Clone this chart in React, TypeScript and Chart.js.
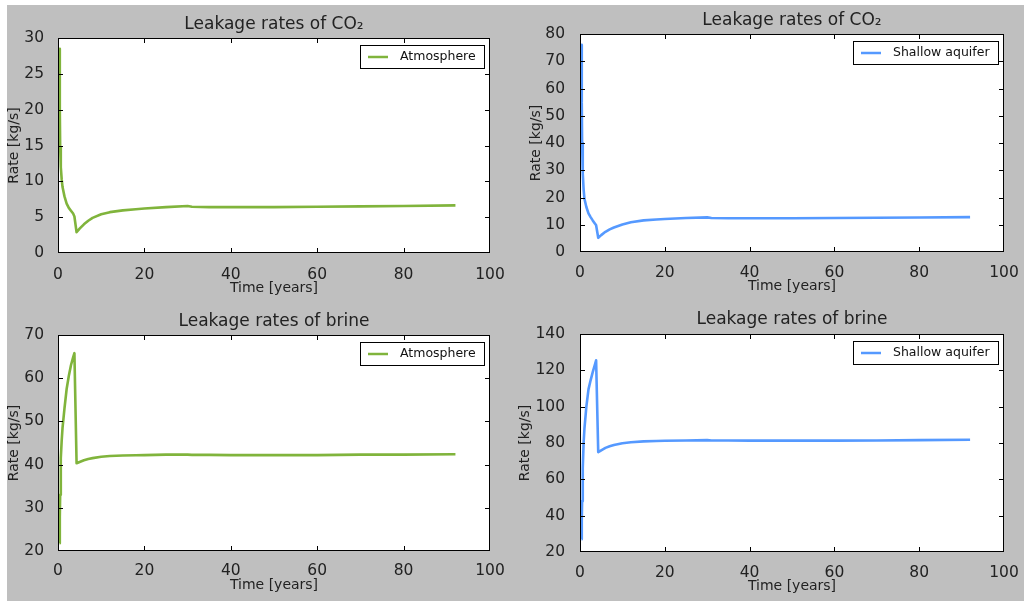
import React, { useEffect, useRef } from "react";
import { Chart, registerables } from "chart.js";

Chart.register(...registerables);

// ---- data ----
const timeYears = [0.35, 0.42, 0.5, 0.65, 0.85, 1.05, 1.5, 2, 2.5, 3, 3.5, 3.8, 4.3, 5, 6, 7, 8, 10, 12, 15, 18, 20, 25, 30, 31, 35, 40, 50, 60, 70, 80, 92];
const co2Atmosphere = [28.5, 20, 14.8, 12, 10.3, 9.2, 7.9, 6.9, 6.3, 5.9, 5.5, 5.1, 2.9, 3.4, 4.0, 4.5, 4.9, 5.4, 5.7, 5.95, 6.1, 6.2, 6.4, 6.55, 6.45, 6.4, 6.4, 6.4, 6.45, 6.5, 6.55, 6.65];
const co2ShallowAquifer = [76, 55, 40, 29, 23, 19.5, 16.5, 14.2, 12.8, 11.6, 10.5, 9.8, 5.2, 6.2, 7.4, 8.3, 9.0, 10.1, 10.9, 11.6, 11.9, 12.1, 12.5, 12.7, 12.45, 12.4, 12.4, 12.4, 12.45, 12.55, 12.65, 12.8];
const brineAtmosphere = [21.8, 28, 33, 41.5, 45.5, 48.5, 53, 57.5, 60.5, 63, 64.8, 65.8, 40.3, 40.6, 41.0, 41.3, 41.5, 41.8, 42.0, 42.1, 42.15, 42.2, 42.3, 42.3, 42.25, 42.25, 42.2, 42.2, 42.2, 42.3, 42.3, 42.4];
const brineShallowAquifer = [27, 38, 48, 66, 80, 88, 100, 109.5, 114.5, 119, 123, 125.5, 75, 76, 77.3, 78.2, 78.9, 79.9, 80.4, 80.9, 81.1, 81.2, 81.4, 81.6, 81.4, 81.35, 81.3, 81.3, 81.3, 81.4, 81.6, 81.8];

const xTicks = [0, 20, 40, 60, 80, 100];
const co2AtmTicks = [0, 5, 10, 15, 20, 25, 30];
const co2AqTicks = [0, 10, 20, 30, 40, 50, 60, 70, 80];
const brineAtmTicks = [20, 30, 40, 50, 60, 70];
const brineAqTicks = [20, 40, 60, 80, 100, 120, 140];

const titleCo2 = "Leakage rates of CO\u2082";
const titleBrine = "Leakage rates of brine";
const labelAtm = "Atmosphere";
const labelAq = "Shallow aquifer";
const xTitle = "Time [years]";
const yTitle = "Rate [kg/s]";

const GREEN = "#80b43c";
const BLUE = "#5599ff";
const TEXT = "#222222";
const FONT = "'DejaVu Sans', 'Liberation Sans', sans-serif";

type Panel = {
  x: number; y: number; w: number; h: number;
  area: { l: number; t: number; r: number; b: number };
  title: string; label: string; color: string;
  values: number[]; yTicks: number[];
  titlePad: { top: number; bottom: number };
  yTitlePad: number; xTickPad: number; xTitlePad: number; yTickPad: number;
};

const panels: Panel[] = [
  { x: 0, y: 0, w: 512, h: 300, area: { l: 58, t: 38, r: 490, b: 253 }, title: titleCo2, label: labelAtm, color: GREEN,
    values: co2Atmosphere, yTicks: co2AtmTicks, titlePad: { top: 14.8, bottom: 2.8 }, yTitlePad: 5.6, xTickPad: 4.7, xTitlePad: 3.6, yTickPad: 6 },
  { x: 512, y: 0, w: 512, h: 300, area: { l: 68, t: 34, r: 492, b: 252 }, title: titleCo2, label: labelAq, color: BLUE,
    values: co2ShallowAquifer, yTicks: co2AqTicks, titlePad: { top: 10.8, bottom: 2.8 }, yTitlePad: 15.6, xTickPad: 3.7, xTitlePad: 4.9, yTickPad: 7 },
  { x: 0, y: 300, w: 512, h: 301, area: { l: 58, t: 35, r: 490, b: 251 }, title: titleBrine, label: labelAtm, color: GREEN,
    values: brineAtmosphere, yTicks: brineAtmTicks, titlePad: { top: 11.5, bottom: 3.1 }, yTitlePad: 6.1, xTickPad: 3, xTitlePad: 6.9, yTickPad: 6 },
  { x: 512, y: 300, w: 512, h: 301, area: { l: 68, t: 34, r: 492, b: 252 }, title: titleBrine, label: labelAq, color: BLUE,
    values: brineShallowAquifer, yTicks: brineAqTicks, titlePad: { top: 9.8, bottom: 3.8 }, yTitlePad: 4.9, xTickPad: 3.7, xTitlePad: 5.9, yTickPad: 7 },
];

const areaBgPlugin = {
  id: "areaBg",
  beforeDatasetsDraw(chart: any) {
    const { ctx, chartArea } = chart;
    ctx.save();
    ctx.fillStyle = "#ffffff";
    ctx.fillRect(chartArea.left, chartArea.top, chartArea.right - chartArea.left, chartArea.bottom - chartArea.top);
    ctx.restore();
  },
};

const framePlugin = {
  id: "frameTicks",
  afterDatasetsDraw(chart: any) {
    const { ctx, chartArea } = chart;
    const l = Math.round(chartArea.left), t = Math.round(chartArea.top);
    const r = Math.round(chartArea.right), b = Math.round(chartArea.bottom);
    const xs = chart.scales.x, ys = chart.scales.y;
    const len = 5;
    ctx.save();
    ctx.strokeStyle = "#000";
    ctx.lineWidth = 1;
    ctx.beginPath();
    xs.ticks.forEach((tk: any) => {
      if (tk.value <= xs.min || tk.value >= xs.max) return;
      const px = Math.round(xs.getPixelForValue(tk.value)) + 0.5;
      ctx.moveTo(px, b); ctx.lineTo(px, b - len);
      ctx.moveTo(px, t); ctx.lineTo(px, t + len);
    });
    ys.ticks.forEach((tk: any) => {
      if (tk.value <= ys.min || tk.value >= ys.max) return;
      const py = Math.round(ys.getPixelForValue(tk.value)) + 0.5;
      ctx.moveTo(l, py); ctx.lineTo(l + len, py);
      ctx.moveTo(r, py); ctx.lineTo(r - len, py);
    });
    ctx.stroke();
    ctx.strokeRect(l + 0.5, t + 0.5, r - l - 1, b - t - 1);
    ctx.restore();
  },
};

const legendPlugin = {
  id: "innerLegend",
  afterDatasetsDraw(chart: any) {
    const { ctx, chartArea } = chart;
    const ds = chart.data.datasets[0];
    ctx.save();
    ctx.font = `12.5px ${FONT}`;
    const tw = ctx.measureText(ds.label).width;
    const w = Math.round(40 + tw + 8);
    const h = 23;
    const bx = Math.round(chartArea.right - 6.5 - w);
    const by = Math.round(chartArea.top + 7);
    ctx.fillStyle = "#ffffff";
    ctx.fillRect(bx, by, w, h);
    ctx.strokeStyle = "#000";
    ctx.lineWidth = 1;
    ctx.strokeRect(bx + 0.5, by + 0.5, w, h);
    const cy = by + h / 2 + 0.5;
    ctx.strokeStyle = ds.borderColor;
    ctx.lineWidth = 2.5;
    ctx.beginPath();
    ctx.moveTo(bx + 8, cy);
    ctx.lineTo(bx + 28, cy);
    ctx.stroke();
    ctx.fillStyle = "#111";
    ctx.textBaseline = "middle";
    ctx.textAlign = "left";
    ctx.fillText(ds.label, bx + 40, cy);
    ctx.restore();
  },
};

function PanelChart({ p }: { p: Panel }) {
  const ref = useRef<HTMLCanvasElement>(null);
  useEffect(() => {
    if (!ref.current) return;
    const chart = new Chart(ref.current, {
      type: "line",
      data: {
        datasets: [
          {
            label: p.label,
            data: timeYears.map((t, i) => ({ x: t, y: p.values[i] })),
            borderColor: p.color,
            backgroundColor: p.color,
            borderWidth: 2.6,
            pointRadius: 0,
            tension: 0,
            fill: false,
            borderJoinStyle: "round",
          } as any,
        ],
      },
      options: {
        animation: false,
        responsive: false,
        events: [],
        layout: { padding: { left: 0, top: 0, right: p.w - p.area.r, bottom: 0 } },
        plugins: {
          legend: { display: false },
          tooltip: { enabled: false },
          title: {
            display: true,
            text: p.title,
            fullSize: false,
            color: TEXT,
            font: { family: FONT, size: 17, weight: "normal" },
            padding: { top: p.titlePad.top, bottom: p.titlePad.bottom },
          },
        },
        scales: {
          x: {
            type: "linear",
            min: 0,
            max: 100,
            afterBuildTicks: (s: any) => { s.ticks = xTicks.map((v) => ({ value: v })); },
            afterFit: (s: any) => { s.height = p.h - p.area.b; },
            grid: { display: false },
            border: { display: false },
            ticks: { color: TEXT, font: { family: FONT, size: 15.5 }, padding: p.xTickPad, maxRotation: 0, autoSkip: false },
            title: { display: true, text: xTitle, color: TEXT, font: { family: FONT, size: 14 }, padding: { top: 0, bottom: p.xTitlePad } },
          },
          y: {
            type: "linear",
            min: p.yTicks[0],
            max: p.yTicks[p.yTicks.length - 1],
            afterBuildTicks: (s: any) => { s.ticks = p.yTicks.map((v) => ({ value: v })); },
            afterFit: (s: any) => { s.width = p.area.l; },
            grid: { display: false },
            border: { display: false },
            ticks: { color: TEXT, font: { family: FONT, size: 15.5 }, padding: p.yTickPad, autoSkip: false },
            title: { display: true, text: yTitle, color: TEXT, font: { family: FONT, size: 14 }, padding: { top: p.yTitlePad, bottom: 0 } },
          },
        },
      } as any,
      plugins: [areaBgPlugin, framePlugin, legendPlugin],
    });
    return () => chart.destroy();
  }, []);
  return (
    <canvas
      ref={ref}
      width={p.w}
      height={p.h}
      style={{ position: "absolute", left: p.x, top: p.y, width: p.w, height: p.h }}
    />
  );
}

export default function App() {
  return (
    <div style={{ position: "fixed", left: 0, top: 0, width: 1024, height: 601, background: "#ffffff", overflow: "hidden" }}>
      <div style={{ position: "absolute", left: 7, top: 5, width: 1017, height: 596, background: "#bfbfbf" }} />
      {panels.map((p, i) => (
        <PanelChart key={i} p={p} />
      ))}
    </div>
  );
}
